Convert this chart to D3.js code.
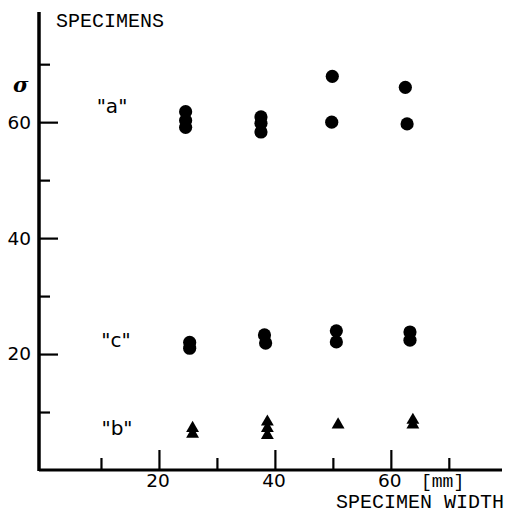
<!DOCTYPE html>
<html><head><meta charset="utf-8">
<script src="https://cdn.jsdelivr.net/npm/d3@7"></script>
<style>body{margin:0;background:#fff;}svg{display:block;}</style>
</head><body>
<svg id="c" width="514" height="517"></svg>
<script>
// Data (x = specimen width [mm], y = sigma)
const seriesA_x = [24.6, 24.6, 24.6, 37.6, 37.6, 37.6, 49.9, 49.8, 62.5, 62.8];
const seriesA_y = [61.8, 60.3, 59.1, 60.9, 59.8, 58.3, 67.9, 60.0, 66.0, 59.7];
const seriesC_x = [25.3, 25.3, 38.2, 38.4, 50.6, 50.6, 63.3, 63.3];
const seriesC_y = [22.0, 21.0, 23.3, 21.9, 24.0, 22.1, 23.8, 22.4];
const seriesB_x = [25.8, 25.8, 38.7, 38.7, 38.7, 50.9, 63.8, 63.8];
const seriesB_y = [7.2, 6.2, 8.3, 7.2, 6.0, 7.8, 8.6, 7.8];
const xMajor = [20, 40, 60];
const xMinor = [10, 30, 50, 70];
const yMajor = [20, 40, 60];
const yMinor = [10, 30, 50, 70];
const seriesLabels = ['"a"', '"c"', '"b"'];
const seriesLabelPos = [[112, 62.6], [116, 22.1], [117, 6.9]];

const svg = d3.select("#c");
const x = d3.scaleLinear().domain([0, 79]).range([43, 501]);
const y = d3.scaleLinear().domain([0, 79]).range([470, 12]);
const mono = "'Liberation Mono', 'DejaVu Sans Mono', monospace";
const sans = "'DejaVu Sans', 'Liberation Sans', sans-serif";

// axes lines
svg.append("line").attr("x1", 39).attr("x2", 39).attr("y1", 12).attr("y2", 471)
  .attr("stroke", "#000").attr("stroke-width", 3.5);
svg.append("line").attr("x1", 39).attr("x2", 502).attr("y1", 470).attr("y2", 470)
  .attr("stroke", "#000").attr("stroke-width", 3);

// y axis ticks (pointing right), labels on left
const yAxMaj = svg.append("g").attr("transform", "translate(40,0)")
  .call(d3.axisLeft(y).tickValues(yMajor).tickSizeInner(-18).tickSizeOuter(0).tickPadding(9));
const yAxMin = svg.append("g").attr("transform", "translate(40,0)")
  .call(d3.axisLeft(y).tickValues(yMinor).tickSizeInner(-10).tickSizeOuter(0).tickFormat(""));
// x axis ticks (pointing up), labels below
const xAxMaj = svg.append("g").attr("transform", "translate(0,470)")
  .call(d3.axisBottom(x).tickValues(xMajor).tickSizeInner(-20).tickSizeOuter(0).tickPadding(4));
const xAxMin = svg.append("g").attr("transform", "translate(0,470)")
  .call(d3.axisBottom(x).tickValues(xMinor).tickSizeInner(-12).tickSizeOuter(0).tickFormat(""));
[yAxMaj, yAxMin, xAxMaj, xAxMin].forEach(g => {
  g.select(".domain").remove();
  g.selectAll(".tick line").attr("stroke", "#000").attr("stroke-width", 2.2);
  g.selectAll(".tick text").attr("fill", "#000").attr("font-family", sans).attr("font-size", 18.5);
});
xAxMaj.selectAll(".tick text").attr("dx", -1.5);

// circles: series a and c
const circles = seriesA_x.map((v, i) => [v, seriesA_y[i]])
  .concat(seriesC_x.map((v, i) => [v, seriesC_y[i]]));
svg.append("g").selectAll("circle").data(circles).enter().append("circle")
  .attr("cx", d => x(d[0])).attr("cy", d => y(d[1])).attr("r", 6.6).attr("fill", "#000");

// triangles: series b
const tri = d3.symbol().type(d3.symbolTriangle).size(72);
svg.append("g").selectAll("path").data(seriesB_x.map((v, i) => [v, seriesB_y[i]])).enter()
  .append("path").attr("d", tri)
  .attr("transform", d => `translate(${x(d[0])},${y(d[1])})`).attr("fill", "#000");

// series labels
svg.append("g").selectAll("text").data(seriesLabels).enter().append("text")
  .attr("x", (d, i) => seriesLabelPos[i][0])
  .attr("y", (d, i) => y(seriesLabelPos[i][1]))
  .attr("text-anchor", "middle").attr("dominant-baseline", "middle")
  .attr("font-family", sans).attr("font-size", 20).text(d => d);

// titles
svg.append("text").attr("x", 56).attr("y", 27).attr("font-family", mono).attr("font-size", 20)
  .text("SPECIMENS");
svg.append("text").attr("x", 13).attr("y", 92).attr("font-family", "'DejaVu Serif', serif")
  .attr("font-size", 21).attr("font-weight", "bold").attr("font-style", "italic").text("σ");
svg.append("text").attr("x", 421).attr("y", 487).attr("font-family", mono).attr("font-size", 18)
  .text("[mm]");
svg.append("text").attr("x", 336).attr("y", 508).attr("font-family", mono).attr("font-size", 20)
  .text("SPECIMEN WIDTH");
</script>
</body></html>
